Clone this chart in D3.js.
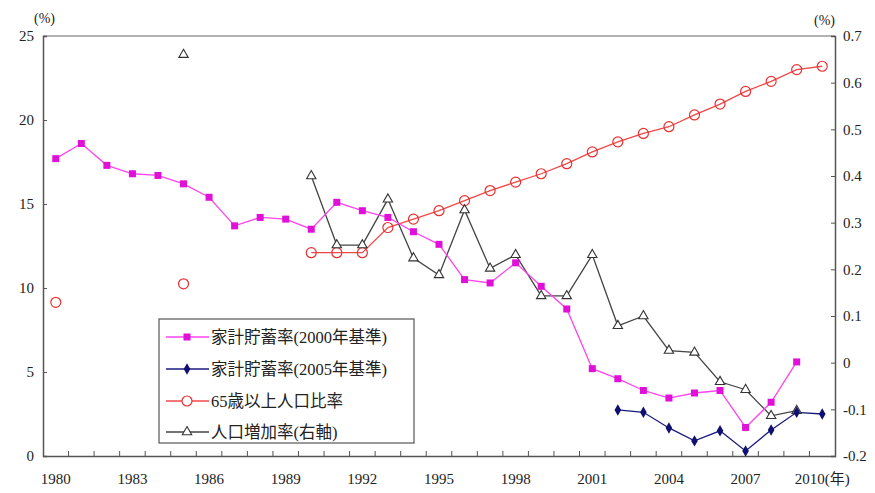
<!DOCTYPE html>
<html><head><meta charset="utf-8">
<script src="https://cdn.jsdelivr.net/npm/d3@7/dist/d3.min.js"></script>
<style>
body{margin:0;background:#fff;}
svg text{font-family:"Liberation Serif","Times New Roman","DejaVu Serif","Noto Sans CJK JP",serif !important;}
</style></head>
<body><svg id="c" width="875" height="493"></svg>
<script>
const years = d3.range(1980, 2011);
const tickLabels = ["1980","1983","1986","1989","1992","1995","1998","2001","2004","2007","2010(年)"];
const leftTicks = [0,5,10,15,20,25];
const rightTicks = [-0.2,-0.1,0,0.1,0.2,0.3,0.4,0.5,0.6,0.7];
// 家計貯蓄率(2000年基準) 1980-2009
const saving2000 = [17.7,18.6,17.3,16.8,16.7,16.2,15.4,13.7,14.2,14.1,13.5,15.1,14.6,14.2,13.35,12.6,10.5,10.3,11.5,10.1,8.75,5.2,4.6,3.9,3.45,3.75,3.9,1.7,3.2,5.6,null];
// 家計貯蓄率(2005年基準) 2002-2010
const saving2005 = [null,null,null,null,null,null,null,null,null,null,null,null,null,null,null,null,null,null,null,null,null,null,2.74,2.6,1.67,0.9,1.5,0.3,1.55,2.6,2.5];
// 65歳以上人口比率
const elderly = [9.15,null,null,null,null,10.25,null,null,null,null,12.1,12.1,12.1,13.6,14.1,14.6,15.2,15.8,16.3,16.8,17.4,18.1,18.7,19.2,19.6,20.3,20.95,21.7,22.3,23.0,23.2];
// 人口増加率(右軸)
const popGrowth = [null,null,null,null,null,0.66,null,null,null,null,0.40,0.252,0.252,0.35,0.224,0.188,0.327,0.202,0.231,0.143,0.143,0.231,0.079,0.10,0.026,0.022,-0.041,-0.058,-0.114,-0.103,null];
const legendLabels = ["家計貯蓄率(2000年基準)","家計貯蓄率(2005年基準)","65歳以上人口比率","人口増加率(右軸)"];

const FONT = '"Liberation Serif","Times New Roman","Noto Sans CJK JP",serif';
const svg = d3.select("#c");
const L=43, R=835, T=36, B=456;
const x = d3.scaleBand().domain(years).range([L,R]);
const cx = d => x(d)+x.bandwidth()/2;
const yL = d3.scaleLinear().domain([0,25]).range([B,T]);
const yR = d3.scaleLinear().domain([-0.2,0.7]).range([B,T]);

svg.append("line").attr("x1",L).attr("x2",R).attr("y1",T).attr("y2",T).attr("stroke","#999").attr("stroke-width",1.5);
const gl = svg.append("g").attr("transform",`translate(${L},0)`)
  .call(d3.axisLeft(yL).tickValues(leftTicks).tickSize(-4).tickPadding(9).tickFormat(d3.format("d")));
const gr = svg.append("g").attr("transform",`translate(${R},0)`)
  .call(d3.axisRight(yR).tickValues(rightTicks).tickSize(-4).tickPadding(8));
const gb = svg.append("g").attr("transform",`translate(0,${B})`)
  .call(d3.axisBottom(x).tickValues([]).tickSize(0));
[gl,gr,gb].forEach(g=>{
  g.attr("font-family",FONT);
  g.select(".domain").attr("stroke","#555").attr("stroke-width",1.5);
  g.selectAll(".tick line").attr("stroke","#555");
  g.selectAll("text").attr("font-size",15).attr("fill","#222");
});
gr.selectAll(".tick text").text(d=> d===0 ? "0" : (d<0? "-"+d3.format(".1f")(-d) : d3.format(".1f")(d)));
gb.selectAll("line.xt").data(years.slice(1)).enter().append("line")
  .attr("x1",d=>x(d)).attr("x2",d=>x(d)).attr("y1",0).attr("y2",-5).attr("stroke","#555");
const labYears = years.filter((d,i)=>i%3===0);
gb.selectAll("text.xl").data(labYears).enter().append("text")
  .attr("x",d=>cx(d)).attr("y",28)
  .attr("text-anchor","middle").attr("font-size",15).attr("fill","#222")
  .text((d,i)=>tickLabels[i]);

svg.append("text").attr("x",34).attr("y",23).attr("font-size",14).attr("fill","#222").attr("font-family",FONT).text("(%)");
svg.append("text").attr("x",814).attr("y",25).attr("font-size",14).attr("fill","#222").attr("font-family",FONT).text("(%)");

function series(vals, ys, color, width){
  const pts = years.map((yr,i)=>({yr, v: vals[i]}));
  const segs=[]; let cur=[];
  pts.forEach(p=>{ if(p.v!=null){cur.push(p);} else { if(cur.length) segs.push(cur); cur=[]; } });
  if(cur.length) segs.push(cur);
  segs.filter(s=>s.length>1).forEach(s=>{
    svg.append("path").datum(s).attr("d",d3.line().x(d=>cx(d.yr)).y(d=>ys(d.v)))
      .attr("fill","none").attr("stroke",color).attr("stroke-width",width);
  });
  return pts.filter(p=>p.v!=null);
}

const pe = series(elderly, yL, "#f04848", 1.3);
const pp = series(popGrowth, yR, "#444", 1.3);
const ps = series(saving2000, yL, "#ff44ee", 1.3);
const pb = series(saving2005, yL, "#1a1a80", 1.3);

const tri = d3.symbol().type(d3.symbolTriangle).size(38);
const dia = d3.symbol().type(d3.symbolDiamond).size(38);

svg.selectAll("circle.el").data(pe).enter().append("circle")
  .attr("cx",d=>cx(d.yr)).attr("cy",d=>yL(d.v)).attr("r",5).attr("fill","none").attr("stroke","#e83030").attr("stroke-width",1.2);
svg.selectAll("path.pg").data(pp).enter().append("path")
  .attr("transform",d=>`translate(${cx(d.yr)},${yR(d.v)})`).attr("d",tri).attr("fill","#fff").attr("stroke","#333").attr("stroke-width",1.1);
svg.selectAll("rect.sv").data(ps).enter().append("rect")
  .attr("x",d=>cx(d.yr)-3.5).attr("y",d=>yL(d.v)-3.5).attr("width",7).attr("height",7).attr("fill","#e010d8");
svg.selectAll("path.sb").data(pb).enter().append("path")
  .attr("transform",d=>`translate(${cx(d.yr)},${yL(d.v)})`).attr("d",dia).attr("fill","#101070");

const lg = svg.append("g").attr("font-family",FONT);
lg.append("rect").attr("x",159).attr("y",319).attr("width",255).attr("height",124).attr("fill","#fff").attr("stroke","#555").attr("stroke-width",1.2);
const ly = [337,369,401,432];
const lcol = ["#ff44ee","#1a1a80","#f04848","#444"];
legendLabels.forEach((t,i)=>{
  lg.append("line").attr("x1",166).attr("x2",209).attr("y1",ly[i]).attr("y2",ly[i]).attr("stroke",lcol[i]).attr("stroke-width",1.3);
  const mx=187, my=ly[i];
  if(i===0) lg.append("rect").attr("x",mx-3.5).attr("y",my-3.5).attr("width",7).attr("height",7).attr("fill","#e010d8");
  if(i===1) lg.append("path").attr("transform",`translate(${mx},${my})`).attr("d",dia).attr("fill","#101070");
  if(i===2) lg.append("circle").attr("cx",mx).attr("cy",my).attr("r",5).attr("fill","#fff").attr("stroke","#e83030").attr("stroke-width",1.2);
  if(i===3) lg.append("path").attr("transform",`translate(${mx},${my})`).attr("d",tri).attr("fill","#fff").attr("stroke","#333").attr("stroke-width",1.1);
  lg.append("text").attr("x",211).attr("y",ly[i]+6).attr("font-size",16.5).attr("fill","#222").text(t);
});
</script></body></html>
